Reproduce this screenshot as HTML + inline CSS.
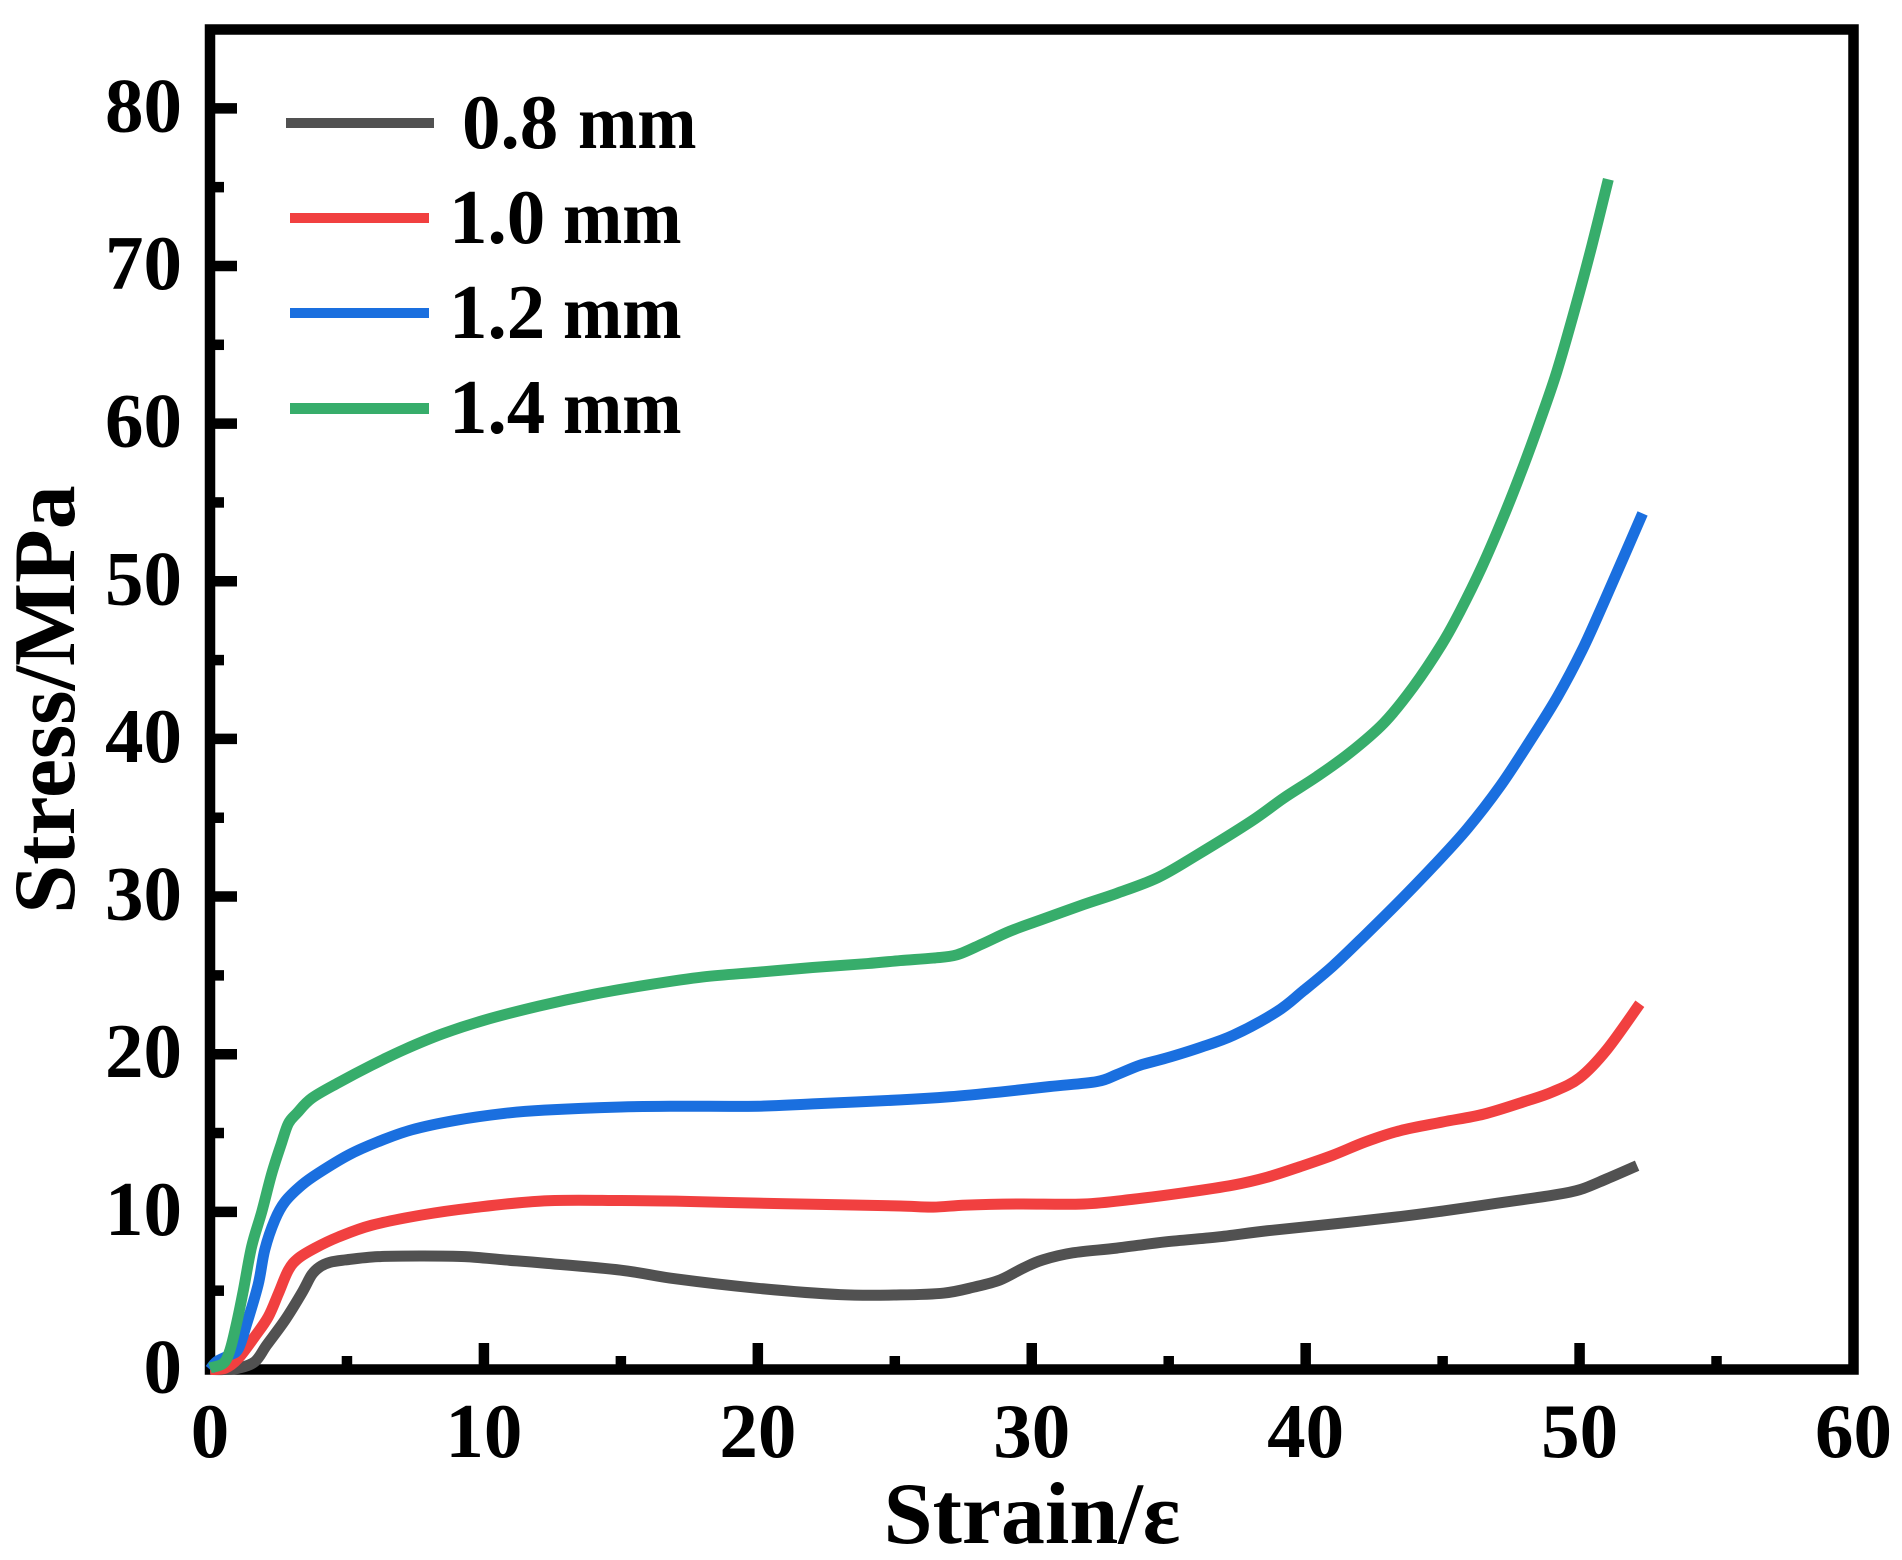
<!DOCTYPE html>
<html lang="en">
<head>
<meta charset="utf-8">
<title>Stress-strain curves</title>
<style>
html,body{margin:0;padding:0;background:#fff;}
#chart{display:block;width:1902px;height:1560px;}
text{font-family:"Liberation Serif",serif;font-weight:bold;fill:#000;}
</style>
</head>
<body>
<svg id="chart" xmlns="http://www.w3.org/2000/svg" width="1902" height="1560" viewBox="0 0 1902 1560">
  <rect x="210" y="29.5" width="1643.5" height="1340" fill="none" stroke="#000" stroke-width="10.5"/>
  <g id="ticks"></g>
  <g id="series"></g>
  <text x="1032" y="1543" font-size="88" text-anchor="middle">Strain/ε</text>
  <text transform="translate(74,699.5) rotate(-90)" font-size="88" text-anchor="middle">Stress/MPa</text>
  <g>
    <g>
      <rect x="286" y="118" width="148" height="10" fill="#515151"/>
      <text font-size="77" x="462" y="148">0.8<tspan x="578" textLength="118.5" lengthAdjust="spacingAndGlyphs">mm</tspan></text>
    </g>
    <g>
      <rect x="290" y="213" width="139" height="10" fill="#F14040"/>
      <text font-size="77" x="449" y="243">1.0<tspan x="563" textLength="118.5" lengthAdjust="spacingAndGlyphs">mm</tspan></text>
    </g>
    <g>
      <rect x="290" y="308" width="139" height="10" fill="#1A6FDF"/>
      <text font-size="77" x="449" y="338">1.2<tspan x="563" textLength="118.5" lengthAdjust="spacingAndGlyphs">mm</tspan></text>
    </g>
    <g>
      <rect x="290" y="403" width="139" height="11" fill="#37AD6B"/>
      <text font-size="77" x="449" y="433">1.4<tspan x="563" textLength="118.5" lengthAdjust="spacingAndGlyphs">mm</tspan></text>
    </g>
  </g>
</svg>
<script>
var xTickLabels = ['0','10','20','30','40','50','60'];
var yTickLabels = ['0','10','20','30','40','50','60','70','80'];
var xMinorTicks = [5,15,25,35,45,55];
var yMinorTicks = [5,15,25,35,45,55,65,75];
var seriesNames = ['0.8 mm','1.0 mm','1.2 mm','1.4 mm'];

var strain08 = [0,0.5,1.03,1.64,2.07,2.74,3.35,3.71,4,4.38,4.93,6.13,7.73,9.31,10.77,12.2,15,17,20,23,25.2,26.8,27.9,28.84,29.7,30.4,31.5,33.1,34.9,36.75,38.6,41,43.45,45,47,49,50,51,52.1];
var stress08 = [0,0,0.08,0.5,1.55,3.14,4.85,6,6.5,6.8,6.95,7.16,7.2,7.16,6.95,6.75,6.3,5.75,5.15,4.75,4.73,4.85,5.23,5.68,6.44,6.95,7.4,7.7,8.1,8.4,8.8,9.23,9.7,10.05,10.55,11.05,11.4,12.1,12.93];

var strain10 = [0,0.55,1.03,1.64,2.13,2.5,2.86,3.22,3.83,4.68,5.9,7.73,9.55,12.2,15,17,20,23,25.2,26.4,27.6,29.5,31.9,33.7,35.5,37.36,38.6,39.8,41,42.2,43.45,45,46.5,48,49,50,51,52.2];
var stress10 = [0,0.08,0.7,2.1,3.35,4.83,6.3,7.05,7.7,8.4,9.15,9.8,10.25,10.7,10.72,10.68,10.55,10.45,10.37,10.3,10.43,10.5,10.5,10.8,11.2,11.7,12.2,12.87,13.6,14.45,15.15,15.7,16.2,17,17.6,18.5,20.3,23.2];

var strain12 = [0,0.24,0.7,1.03,1.34,1.76,2,2.37,2.74,3.35,3.95,5.05,6.14,7.36,8.95,10.77,12.2,15,17,20,22,25.2,27,28.84,30.67,32.37,33.1,33.95,34.9,36.1,37.36,38.95,39.9,41,42.2,43.45,44.7,45.9,47.1,48.2,49.2,50.1,50.87,51.6,52.3];
var stress12 = [0,0.5,0.9,1.3,2.9,5.4,7.6,9.5,10.65,11.7,12.45,13.6,14.45,15.2,15.8,16.25,16.45,16.65,16.7,16.7,16.85,17.1,17.3,17.6,17.95,18.26,18.7,19.3,19.75,20.4,21.2,22.7,24,25.6,27.6,29.75,32,34.3,37,39.9,42.7,45.65,48.6,51.5,54.3];

var strain14 = [0,0.49,0.73,0.97,1.22,1.52,1.89,2.25,2.6,2.86,3.17,3.71,4.7,5.9,7.1,8.5,10,12,14,16,18,20,22,24,25.2,26.4,27.26,28.2,29.2,30.3,31.9,33.1,34.6,36,38,39.2,40.4,41.6,42.85,43.93,44.97,45.64,46.43,47.2,47.95,48.56,49.17,49.85,50.45,51.05];
var stress14 = [0.1,0.39,1.24,2.93,5.04,7.8,10,12.4,14.3,15.6,16.25,17.2,18.2,19.3,20.3,21.3,22.15,23.05,23.8,24.4,24.9,25.2,25.5,25.75,25.94,26.1,26.3,27,27.8,28.5,29.5,30.2,31.2,32.6,34.76,36.25,37.6,39.1,41,43.3,46,48.1,50.9,54,57.3,60.2,63.3,67.4,71.3,75.5];

var seriesColors = ['#515151','#F14040','#1A6FDF','#37AD6B'];
var seriesStrain = [strain08,strain10,strain12,strain14];
var seriesStress = [stress08,stress10,stress12,stress14];

var NS = 'http://www.w3.org/2000/svg';
function xScale(v){ return 210 + (v - 0) * (1853.5 - 210) / 60; }
function yScale(v){ return 1369.5 - v * (1369.5 - 29.5) / 85; }

var tickLayer = document.getElementById('ticks');
var seriesLayer = document.getElementById('series');

function drawTick(x1,y1,x2,y2,parent,name){
  var el = document.createElementNS(NS,'line');
  el.setAttribute('x1',x1);
  el.setAttribute('y1',y1);
  el.setAttribute('x2',x2);
  el.setAttribute('y2',y2);
  el.setAttribute('stroke','#000');
  el.setAttribute('stroke-width','10.5');
  
  
  parent.appendChild(el);
}
function drawLabel(x,y,str,anchor,name){
  var el = document.createElementNS(NS,'text');
  el.setAttribute('x',x);
  el.setAttribute('y',y);
  el.setAttribute('font-size','77');
  el.setAttribute('text-anchor',anchor);
  el.textContent = str;
  
  
  tickLayer.appendChild(el);
}

xTickLabels.forEach(function(t){
  var v = parseFloat(t), x = xScale(v);
  if (v > 0 && v < 60) drawTick(x,1366,x,1343,tickLayer,'x-tick-' + t);
  drawLabel(x,1457,t,'middle','x-tick-label-' + t);
});
xMinorTicks.forEach(function(v){
  var x = xScale(v);
  drawTick(x,1366,x,1356,tickLayer,'x-minor-tick-' + v);
});
yTickLabels.forEach(function(t){
  var v = parseFloat(t), y = yScale(v);
  if (v > 0) drawTick(213,y,237,y,tickLayer,'y-tick-' + t);
  drawLabel(182,y + 23,t,'end','y-tick-label-' + t);
});
yMinorTicks.forEach(function(v){
  var y = yScale(v);
  drawTick(213,y,224,y,tickLayer,'y-minor-tick-' + v);
});

seriesNames.forEach(function(name,i){
  var xs = seriesStrain[i], ys = seriesStress[i];
  var pts = xs.map(function(v,k){ return [xScale(v),yScale(ys[k])]; });
  var d = 'M' + pts[0][0].toFixed(2) + ' ' + pts[0][1].toFixed(2);
  for (var k = 0; k < pts.length - 1; k++) {
    var p0 = pts[Math.max(k-1,0)], p1 = pts[k], p2 = pts[k+1], p3 = pts[Math.min(k+2,pts.length-1)];
    var c1x = p1[0] + (p2[0]-p0[0])/6, c1y = p1[1] + (p2[1]-p0[1])/6;
    var c2x = p2[0] - (p3[0]-p1[0])/6, c2y = p2[1] - (p3[1]-p1[1])/6;
    d += 'C' + c1x.toFixed(2) + ' ' + c1y.toFixed(2) + ' ' + c2x.toFixed(2) + ' ' + c2y.toFixed(2) + ' ' + p2[0].toFixed(2) + ' ' + p2[1].toFixed(2);
  }
  var el = document.createElementNS(NS,'path');
  el.setAttribute('d',d);
  el.setAttribute('fill','none');
  el.setAttribute('stroke',seriesColors[i]);
  el.setAttribute('stroke-width','11');
  el.setAttribute('stroke-linejoin','round');
  
  
  seriesLayer.appendChild(el);
});
</script>
</body>
</html>
